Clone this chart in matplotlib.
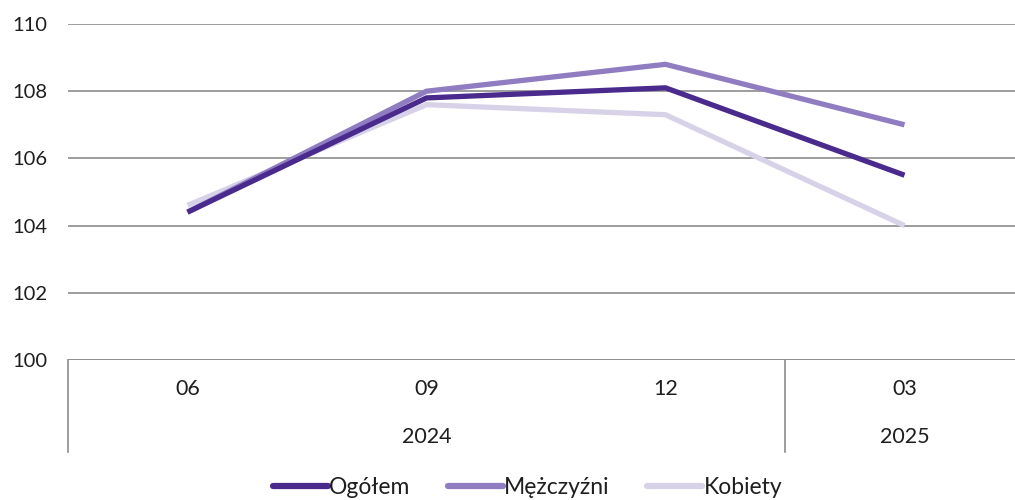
import matplotlib
matplotlib.use("Agg")
import matplotlib.pyplot as plt
import matplotlib.transforms as mtransforms

# data
months = ["06", "09", "12", "03"]
years = ["2024", "2025"]
year_counts = [3, 1]

ogolem = [104.4, 107.8, 108.1, 105.5]
mezczyzni = [104.4, 108.0, 108.8, 107.0]
kobiety = [104.6, 107.6, 107.3, 104.0]

series = [
    ("Ogółem", ogolem, "#4a2a8c"),
    ("Mężczyźni", mezczyzni, "#8f7cc1"),
    ("Kobiety", kobiety, "#d8d2e8"),
]

plt.rcParams["font.family"] = ["Lato", "DejaVu Sans"]
txt_color = "#1e1e1e"
grid_color = "#8c8c8c"

fig = plt.figure(figsize=(10.15, 5.0), dpi=100)
ax = fig.add_axes([68 / 1015, 1 - 360 / 500, 1 - 68 / 1015, 336 / 500])

x = list(range(len(months)))
# lighter series first so the dark one sits on top
for name, vals, color in reversed(series):
    ax.plot(x, vals, color=color, linewidth=3.8, solid_capstyle="butt",
            solid_joinstyle="miter", label=name)

ax.set_ylim(100, 110)
ax.set_yticks([100, 102, 104, 106, 108, 110])
ax.set_xlim(-0.5, -0.5 + (1015 - 68) / 239)
ax.grid(axis="y", color=grid_color, linewidth=1.2)
ax.set_axisbelow(True)
for s in ["left", "right", "top", "bottom"]:
    ax.spines[s].set_visible(False)
ax.axhline(100, color=grid_color, linewidth=1.2, zorder=0)
ax.tick_params(axis="y", length=0, pad=15, labelsize=14.5, labelcolor=txt_color)
ax.tick_params(axis="x", length=0, labelbottom=False)

# two-level category axis
trans = mtransforms.blended_transform_factory(ax.transData, ax.transAxes)
for i, m in enumerate(months):
    ax.text(i, -0.085, m, transform=trans, ha="center", va="center",
            fontsize=15.5, color=txt_color)
start = 0
bounds = [-0.5]
for y, n in zip(years, year_counts):
    mid = start + (n - 1) / 2
    ax.text(mid, -0.23, y, transform=trans, ha="center", va="center",
            fontsize=15.5, color=txt_color)
    start += n
    bounds.append(start - 0.5)
for b in bounds:
    ax.plot([b, b], [0, -0.275], transform=trans, color=grid_color,
            linewidth=1.2, clip_on=False)

handles, labels = ax.get_legend_handles_labels()
leg = ax.legend(handles[::-1], labels[::-1], loc="center",
                bbox_to_anchor=(0.485, -0.38), ncol=3, frameon=False,
                fontsize=16.5, handlelength=2.4, handletextpad=0.05,
                columnspacing=1.65)
for h in leg.get_lines():
    h.set_linewidth(4.5)
    h.set_solid_capstyle("round")
for t in leg.get_texts():
    t.set_color(txt_color)

fig.savefig("out.png", dpi=100)
